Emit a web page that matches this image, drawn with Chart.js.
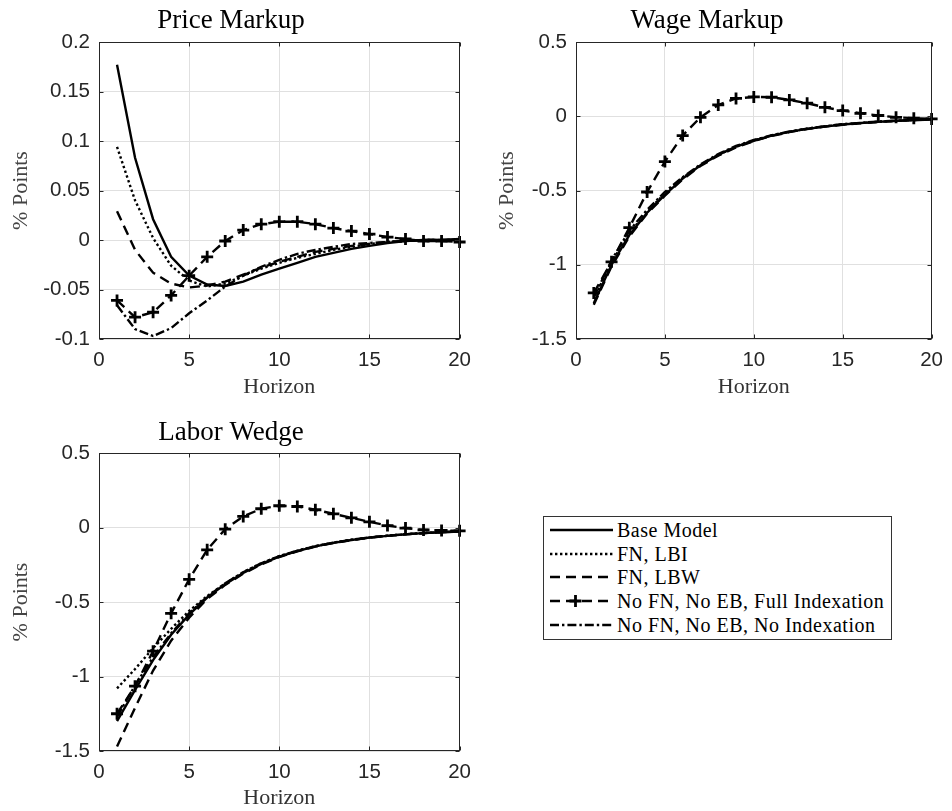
<!DOCTYPE html>
<html>
<head>
<meta charset="utf-8">
<script src="https://cdn.jsdelivr.net/npm/chart.js@4.4.1/dist/chart.umd.min.js"></script>
<style>
  body { margin:0; background:#fff; width:952px; height:811px; position:relative; overflow:hidden; }
  canvas { position:absolute; }
  #legend { position:absolute; left:543px; top:516px; width:347px; height:122px; border:1px solid #333; background:#fff; }
  .lg-row { position:absolute; left:0; height:24px; width:100%; }
  .lg-row svg { position:absolute; left:0; top:0; }
  .lg-row span { position:absolute; left:73px; top:0; line-height:24px; font-family:'Liberation Serif', serif; font-size:20px; letter-spacing:0.5px; color:#000; white-space:nowrap; }
</style>
</head>
<body>
<canvas id="c-price" width="480" height="400" style="left:0;top:0"></canvas>
<canvas id="c-wage" width="476" height="400" style="left:476px;top:0"></canvas>
<canvas id="c-labor" width="480" height="411" style="left:0;top:400px"></canvas>
<div id="legend"></div>
<script>
'use strict';

// ---- data ----
const horizon = [1,2,3,4,5,6,7,8,9,10,11,12,13,14,15,16,17,18,19,20];
const seriesNames = ['Base Model','FN, LBI','FN, LBW','No FN, No EB, Full Indexation','No FN, No EB, No Indexation'];
const horizonTicks = [0,5,10,15,20];

const priceBase  = [0.177,0.083,0.021,-0.017,-0.036,-0.045,-0.0465,-0.042,-0.035,-0.029,-0.023,-0.017,-0.013,-0.009,-0.006,-0.003,-0.001,0,0,0.001];
const priceLBI   = [0.094,0.040,0.002,-0.026,-0.041,-0.047,-0.044,-0.036,-0.029,-0.023,-0.018,-0.014,-0.010,-0.007,-0.004,-0.002,-0.001,0,0,0];
const priceLBW   = [0.029,-0.010,-0.033,-0.044,-0.048,-0.046,-0.042,-0.035,-0.028,-0.022,-0.017,-0.012,-0.009,-0.006,-0.004,-0.002,-0.001,0,0,0];
const priceFull  = [-0.061,-0.078,-0.073,-0.056,-0.036,-0.017,-0.001,0.010,0.016,0.0185,0.0185,0.016,0.012,0.009,0.006,0.003,0.001,-0.001,-0.001,-0.002];
const priceNoIdx = [-0.066,-0.090,-0.097,-0.089,-0.074,-0.061,-0.047,-0.036,-0.027,-0.020,-0.014,-0.010,-0.007,-0.004,-0.003,-0.002,-0.001,0,0,0];
const priceTicks = [-0.1,-0.05,0,0.05,0.1,0.15,0.2];

const wageBase  = [-1.26,-1.00,-0.80,-0.65,-0.53,-0.42,-0.33,-0.26,-0.205,-0.165,-0.13,-0.105,-0.085,-0.07,-0.056,-0.046,-0.038,-0.031,-0.026,-0.022];
const wageLBI   = [-1.23,-0.98,-0.79,-0.64,-0.52,-0.415,-0.33,-0.26,-0.205,-0.163,-0.13,-0.104,-0.084,-0.068,-0.055,-0.045,-0.037,-0.03,-0.025,-0.021];
const wageLBW   = [-1.27,-1.01,-0.81,-0.655,-0.535,-0.425,-0.335,-0.265,-0.21,-0.167,-0.133,-0.107,-0.086,-0.07,-0.057,-0.047,-0.038,-0.031,-0.026,-0.022];
const wageFull  = [-1.19,-0.98,-0.75,-0.51,-0.305,-0.13,-0.007,0.076,0.12,0.13,0.128,0.11,0.088,0.06,0.038,0.02,0.005,-0.007,-0.013,-0.018];
const wageNoIdx = [-1.22,-0.97,-0.77,-0.63,-0.51,-0.41,-0.325,-0.255,-0.2,-0.16,-0.128,-0.103,-0.083,-0.067,-0.054,-0.044,-0.036,-0.03,-0.025,-0.021];
const wageTicks = [-1.5,-1,-0.5,0,0.5];

const laborBase  = [-1.30,-1.09,-0.89,-0.72,-0.585,-0.47,-0.38,-0.305,-0.245,-0.195,-0.158,-0.127,-0.103,-0.084,-0.068,-0.056,-0.046,-0.038,-0.032,-0.027];
const laborLBI   = [-1.08,-0.95,-0.81,-0.68,-0.56,-0.46,-0.375,-0.30,-0.24,-0.192,-0.155,-0.125,-0.101,-0.082,-0.067,-0.055,-0.045,-0.037,-0.031,-0.026];
const laborLBW   = [-1.47,-1.21,-0.96,-0.76,-0.605,-0.48,-0.385,-0.31,-0.248,-0.198,-0.16,-0.128,-0.104,-0.085,-0.069,-0.056,-0.046,-0.038,-0.032,-0.027];
const laborFull  = [-1.25,-1.065,-0.83,-0.576,-0.348,-0.15,-0.011,0.074,0.126,0.146,0.141,0.119,0.092,0.065,0.038,0.013,-0.004,-0.016,-0.02,-0.022];
const laborNoIdx = [-1.27,-1.06,-0.87,-0.71,-0.575,-0.465,-0.375,-0.30,-0.24,-0.193,-0.156,-0.126,-0.102,-0.083,-0.067,-0.055,-0.045,-0.037,-0.031,-0.026];
const laborTicks = [-1.5,-1,-0.5,0,0.5];

// ---- styles ----
const SERIF = "'Liberation Serif', 'Times New Roman', serif";
const SANS = "'Liberation Sans', Arial, sans-serif";
const AXIS = '#262626';
const GRID = '#e0e0e0';
const LW = 2.4;
const lineStyles = [
  {dash:[], marker:false},
  {dash:[2.4,2.6], marker:false},
  {dash:[10,6], marker:false},
  {dash:[10,6], marker:true},
  {dash:[9,3,2.4,3], marker:false},
];

// matlab-ish box with inward ticks
const boxPlugin = {
  id:'box',
  afterDraw(chart) {
    const {ctx, chartArea:a, scales:{x, y}} = chart;
    const L = Math.round(a.left)+0.5, R = Math.round(a.right)-0.5, T = Math.round(a.top)+0.5, B = Math.round(a.bottom)-0.5;
    ctx.save();
    ctx.strokeStyle = AXIS; ctx.lineWidth = 1;
    ctx.beginPath();
    x.ticks.forEach(t=>{
      const px = Math.round(x.getPixelForValue(t.value))+0.5;
      ctx.moveTo(px,B); ctx.lineTo(px,B-4);
      ctx.moveTo(px,T); ctx.lineTo(px,T+4);
    });
    y.ticks.forEach(t=>{
      const py = Math.round(y.getPixelForValue(t.value))+0.5;
      ctx.moveTo(L,py); ctx.lineTo(L+4,py);
      ctx.moveTo(R,py); ctx.lineTo(R-4,py);
    });
    ctx.stroke();
    ctx.strokeRect(L,T,R-L,B-T);
    ctx.restore();
  }
};

function makePanel(id, title, ticks, series, o) {
  return new Chart(document.getElementById(id), {
    type:'line',
    data:{
      datasets: series.map((vals,i)=>{
        const st = lineStyles[i];
        return {
          label: seriesNames[i],
          data: horizon.map((h,k)=>({x:h, y:vals[k]})),
          borderColor:'#000', borderWidth:LW, borderDash:st.dash,
          pointRadius: st.marker ? 6 : 0,
          pointStyle:'cross', pointBorderColor:'#000', pointBorderWidth:2.8,
          fill:false, tension:0, clip:false, order:5-i,
        };
      })
    },
    options:{
      responsive:false, animation:false, devicePixelRatio:1,
      layout:{padding:{left:0, right:o.padRight, top:0, bottom:0}},
      plugins:{
        legend:{display:false}, tooltip:{enabled:false},
        title:{display:true, text:title, color:'#000', font:{family:SERIF, size:27, weight:'normal'}, padding:o.titlePad},
      },
      scales:{
        x:{
          type:'linear', min:0, max:20,
          afterBuildTicks:s=>{ s.ticks = horizonTicks.map(v=>({value:v})); },
          afterFit:s=>{ s.height = o.xHeight; },
          grid:{color:GRID, drawTicks:false}, border:{display:false},
          ticks:{color:AXIS, font:{family:SANS, size:20.5}, padding:9, maxRotation:0},
          title:{display:true, text:'Horizon', color:'#333', font:{family:SERIF, size:22}, padding:{top:0, bottom:0}},
        },
        y:{
          type:'linear', min:ticks[0], max:ticks[ticks.length-1],
          afterBuildTicks:s=>{ s.ticks = ticks.map(v=>({value:v})); },
          afterFit:s=>{ s.width = o.yWidth; },
          grid:{color:GRID, drawTicks:false}, border:{display:false},
          ticks:{color:AXIS, font:{family:SANS, size:20.5}, padding:9, callback:v=>String(v)},
          title:{display:true, text:'% Points', color:'#444', font:{family:SERIF, size:22}, padding:{top:o.yTitlePad, bottom:0}},
        }
      }
    },
    plugins:[boxPlugin]
  });
}

makePanel('c-price', 'Price Markup', priceTicks,
  [priceBase, priceLBI, priceLBW, priceFull, priceNoIdx],
  {padRight:18, xHeight:61, yWidth:99, yTitlePad:8, titlePad:{top:4.3, bottom:5.3}});
makePanel('c-wage', 'Wage Markup', wageTicks,
  [wageBase, wageLBI, wageLBW, wageFull, wageNoIdx],
  {padRight:14, xHeight:61, yWidth:100, yTitlePad:18, titlePad:{top:4.3, bottom:5.3}});
makePanel('c-labor', 'Labor Wedge', laborTicks,
  [laborBase, laborLBI, laborLBW, laborFull, laborNoIdx],
  {padRight:18, xHeight:60, yWidth:99, yTitlePad:8, titlePad:{top:16.8, bottom:3.8}});

// ---- legend ----
(function buildLegend() {
  const el = document.getElementById('legend');
  el.innerHTML = seriesNames.map((name,i)=>{
    const st = lineStyles[i];
    const marker = st.marker ? '<path d="M31.5 6v12M25.5 12h12" stroke="#000" stroke-width="2.8"/>' : '';
    return `<div class="lg-row" style="top:${1+i*23.7}px">
      <svg width="72" height="24"><line x1="6" y1="12" x2="69" y2="12" stroke="#000" stroke-width="${LW}" stroke-dasharray="${st.dash.join(' ')}"/>${marker}</svg>
      <span>${name}</span></div>`;
  }).join('');
})();
</script>
</body>
</html>
